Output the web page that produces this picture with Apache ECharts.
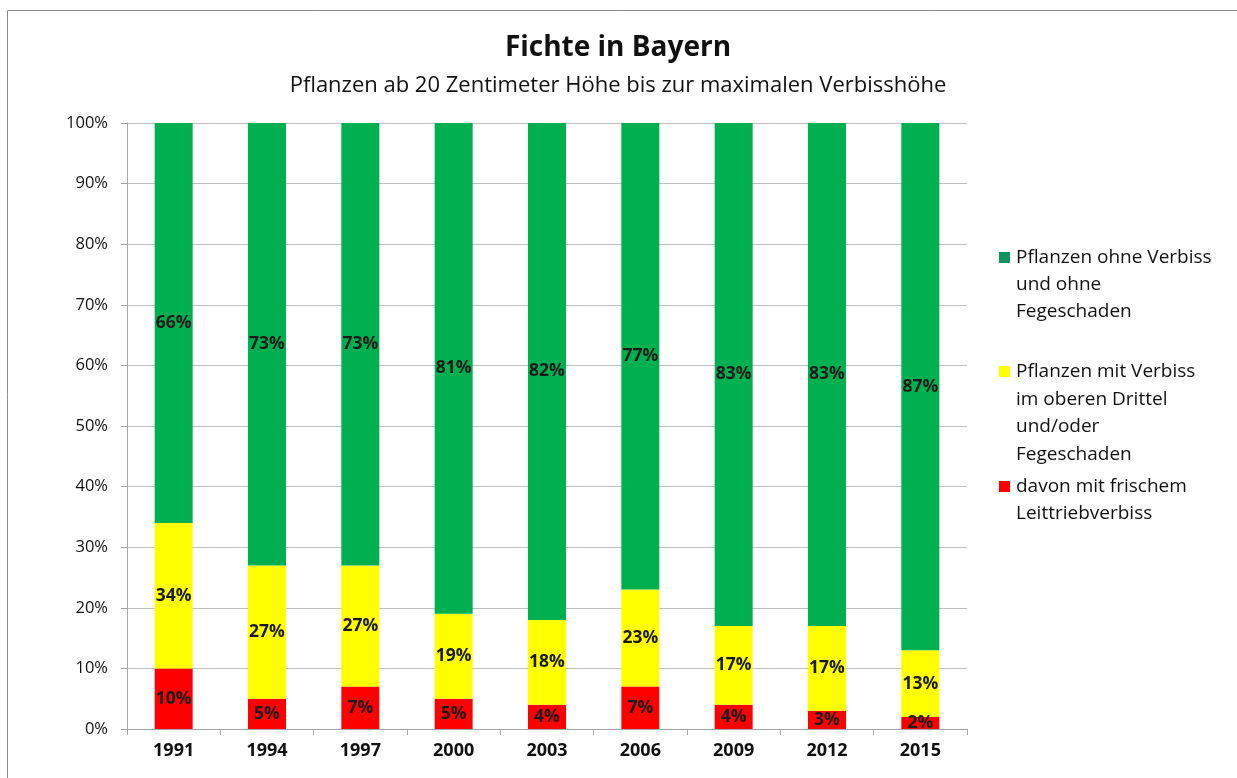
<!DOCTYPE html>
<html>
<head>
<meta charset="utf-8">
<script src="https://cdn.jsdelivr.net/npm/echarts@6/dist/echarts.min.js"></script>
<style>
  html, body { margin: 0; padding: 0; background: #fff; }
  #chart { width: 1237px; height: 778px; }
</style>
</head>
<body>
<div id="chart"></div>
<script>
// Jahre der Aufnahme
var years = ['1991', '1994', '1997', '2000', '2003', '2006', '2009', '2012', '2015'];
// Anteile in Prozent
var ohneVerbiss = [66, 73, 73, 81, 82, 77, 83, 83, 87];
var mitVerbiss = [34, 27, 27, 19, 18, 23, 17, 17, 13];
var leittrieb = [10, 5, 7, 5, 4, 7, 4, 3, 2];
var yTicks = [0, 10, 20, 30, 40, 50, 60, 70, 80, 90, 100];

var legendNames = [
    'Pflanzen ohne Verbiss\nund ohne\nFegeschaden',
    'Pflanzen mit Verbiss\nim oberen Drittel\nund/oder\nFegeschaden',
    'davon mit frischem\nLeittriebverbiss'
];

var font = '"Open Sans", sans-serif';
var labelStyle = {
    show: true,
    position: 'inside',
    color: '#1a1a1a',
    fontWeight: 'bold',
    fontSize: 17.5,
    fontFamily: font
};

// gelber Abschnitt sitzt auf dem roten, Beschriftung zeigt den Gesamtwert
var gelbTeil = mitVerbiss.map(function (v, i) { return v - leittrieb[i]; });

var chart = echarts.init(document.getElementById('chart'));
chart.setOption({
    backgroundColor: '#fff',
    animation: false,
    title: [
        {
            text: 'Fichte in Bayern',
            left: 613, top: 29, textAlign: 'center',
            textStyle: { fontFamily: font, fontSize: 28, fontWeight: 'bold', color: '#111' }
        },
        {
            text: 'Pflanzen ab 20 Zentimeter Höhe bis zur maximalen Verbisshöhe',
            left: 613, top: 70, textAlign: 'center',
            textStyle: { fontFamily: font, fontSize: 22, fontWeight: 'normal', color: '#111' }
        }
    ],
    grid: { left: 127, top: 123, width: 840, height: 606 },
    xAxis: {
        type: 'category',
        data: years,
        axisLine: { lineStyle: { color: '#a6a6a6' } },
        axisTick: { show: true, length: 6, lineStyle: { color: '#a6a6a6' } },
        axisLabel: { color: '#111', fontWeight: 'bold', fontSize: 18, fontFamily: font, margin: 13 }
    },
    yAxis: {
        type: 'value',
        min: 0, max: 100, interval: 10,
        axisLine: { show: true, lineStyle: { color: '#a6a6a6' } },
        axisTick: { show: true, length: 6, lineStyle: { color: '#a6a6a6' } },
        splitLine: { lineStyle: { color: '#bfbfbf' } },
        axisLabel: {
            color: '#111', fontSize: 16.5, fontFamily: font, margin: 19,
            formatter: function (v) { return yTicks.indexOf(v) >= 0 ? v + '%' : ''; }
        }
    },
    series: [
        {
            name: legendNames[2], type: 'bar', stack: 'a', barWidth: 38,
            data: leittrieb,
            itemStyle: { color: '#ff0000' },
            label: Object.assign({}, labelStyle, { formatter: function (p) { return leittrieb[p.dataIndex] + '%'; } })
        },
        {
            name: legendNames[1], type: 'bar', stack: 'a', barWidth: 38,
            data: gelbTeil,
            itemStyle: { color: '#ffff00' },
            label: Object.assign({}, labelStyle, { formatter: function (p) { return mitVerbiss[p.dataIndex] + '%'; } })
        },
        {
            name: legendNames[0], type: 'bar', stack: 'a', barWidth: 38,
            data: ohneVerbiss,
            itemStyle: { color: '#00b050' },
            label: Object.assign({}, labelStyle, { formatter: function (p) { return ohneVerbiss[p.dataIndex] + '%'; } })
        }
    ],
    graphic: [
        {
            type: 'rect', shape: { x: 7.5, y: 10.5, width: 1240, height: 800 },
            style: { fill: 'none', stroke: '#8c8c8c', lineWidth: 1 }, silent: true
        },
        // Legende: Symbol am ersten Zeilenanfang
        { type: 'rect', shape: { x: 999, y: 252, width: 11, height: 11 }, style: { fill: '#12935e' } },
        { type: 'text', left: 1016, top: 244, style: { text: legendNames[0], font: '19px ' + font, fill: '#111', lineHeight: 27 } },
        { type: 'rect', shape: { x: 999, y: 366, width: 11, height: 11 }, style: { fill: '#ffff00' } },
        { type: 'text', left: 1016, top: 358, style: { text: legendNames[1], font: '19px ' + font, fill: '#111', lineHeight: 27.5 } },
        { type: 'rect', shape: { x: 999, y: 481, width: 11, height: 11 }, style: { fill: '#ff0000' } },
        { type: 'text', left: 1016, top: 473, style: { text: legendNames[2], font: '19px ' + font, fill: '#111', lineHeight: 27 } }
    ]
});
</script>
</body>
</html>
